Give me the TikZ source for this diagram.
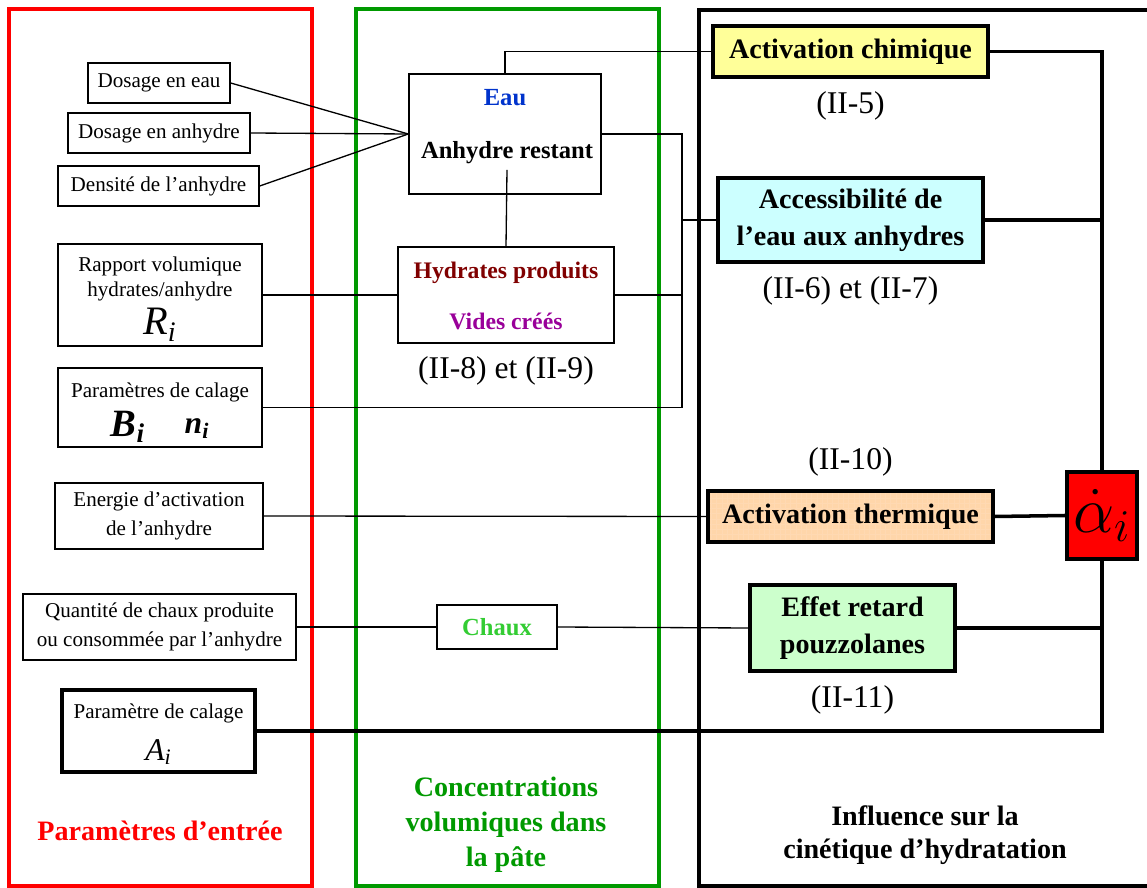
\documentclass[tikz,border=0pt]{standalone}
\usepackage{fontspec}
\setmainfont{Liberation Serif}
\usepackage{amsmath}
\usepackage{tikz}
\usetikzlibrary{positioning,patterns}
\usepackage{xcolor}

\definecolor{cadrerouge}{RGB}{255,0,0}
\definecolor{cadrevert}{RGB}{0,153,0}
\definecolor{vertclair}{RGB}{51,204,51}
\definecolor{bleueau}{RGB}{0,51,204}
\definecolor{rougefonce}{RGB}{128,0,0}
\definecolor{violet}{RGB}{153,0,153}
\definecolor{jaunepale}{RGB}{255,255,153}
\definecolor{cyanpale}{RGB}{204,255,255}
\definecolor{peche}{RGB}{255,214,170}
\definecolor{vertpale}{RGB}{204,255,204}

\newcommand{\fs}[1]{\fontsize{#1}{1.25\dimexpr#1pt\relax}\selectfont}
\newcommand{\pxu}{0.02cm}

\begin{document}
\begin{tikzpicture}[
  x=0.02cm, y=-0.02cm,
  cadre/.style={line width=2pt},
  entree/.style={
    draw, line width=0.8pt, inner sep=0pt,
    align=center, font=\fs{12}
  },
  entreebis/.style={entree, line width=1.1pt},
  effetbox/.style={
    draw, line width=2pt, inner sep=0pt,
    align=center, font=\fs{16}\bfseries
  },
  taille/.style 2 args={minimum width=#1*\pxu, minimum height=#2*\pxu},
  eqlabel/.style={font=\fs{18}},
  titre/.style={font=\fs{16}\bfseries, align=center},
  fin/.style={line width=0.75pt},
  gras/.style={line width=2pt}
]
\useasboundingbox (0,0) rectangle (1147,888);

% --- Cadres des trois colonnes ---
\draw[cadre, cadrerouge] (9,9) rectangle (312,886);
\draw[cadre, cadrevert] (356,9) rectangle (659,886);
\draw[cadre, black] (699,10) rectangle (1170,886);

% --- Parametres d'entree ---
\node[entree, taille={142}{40}] (dosEau) at (159,83) {Dosage en eau};
\node[entree, taille={182}{40}] (dosAnh) at (159,133) {Dosage en anhydre};
\node[entree, taille={201}{40}] (densAnh) at (158.5,186) {Densité de l’anhydre};
\node[entreebis, taille={204}{102}] (rapport) at (160,295) {};
\node[font=\fs{12}, align=center] at (160,279) {Rapport volumique\\[-1pt]hydrates/anhydre};
\node[font=\fs{23}\itshape] at (160,325) {R\textsubscript{i}};
\node[entreebis, taille={204}{79}] (calB) at (160,407.5) {};
\node[font=\fs{12}] at (160,392) {Paramètres de calage};
\node[font=\fs{22}\bfseries\itshape] at (128,427) {B\textsubscript{i}};
\node[font=\fs{18}\bfseries\itshape] at (197,429) {n\textsubscript{i}};
\node[entree, taille={208}{66}] (energie) at (159,516)
  {Energie d’activation\\[1pt]de l’anhydre};
\node[entree, taille={273}{66}] (quantChaux) at (159.5,627)
  {Quantité de chaux produite\\[1pt]ou consommée par l’anhydre};
\node[entree, line width=2pt, taille={193}{82}] (calA) at (158.5,731) {};
\node[font=\fs{12}] at (158.5,713) {Paramètre de calage};
\node[font=\fs{18}\itshape] at (158.5,752) {A\textsubscript{i}};

% --- Concentrations volumiques ---
\node[entree, taille={192}{120}] (pate) at (505,134) {};
\node[font=\fs{14}\bfseries, text=bleueau] (eau) at (505,98) {Eau};
\node[font=\fs{14}\bfseries, inner sep=3pt] (anh) at (507,153) {Anhydre restant};
\node[entree, taille={216}{96}] (hyd) at (506,295) {};
\node[font=\fs{13.5}\bfseries, text=rougefonce] at (506,273) {Hydrates produits};
\node[font=\fs{13.5}\bfseries, text=violet] at (506,321) {Vides créés};
\node[eqlabel, below=4pt of hyd] {(II-8) et (II-9)};
\node[entree, taille={120}{44}, font=\fs{14}\bfseries, text=vertclair] (chaux) at (497,627) {Chaux};

% --- Influence sur la cinetique ---
\node[effetbox, fill=jaunepale, taille={275}{51}] (chim) at (850.5,51.5) {Activation chimique};
\node[eqlabel, below=4pt of chim] {(II-5)};
\node[effetbox, fill=cyanpale, taille={265}{84}] (acces) at (850.5,220)
  {Accessibilité de\\[1pt]l’eau aux anhydres};
\node[eqlabel, below=4pt of acces] {(II-6) et (II-7)};
\node[effetbox, preaction={fill=peche}, preaction={pattern=grid, pattern color=orange!30}, taille={285}{51}] (therm) at (850.5,516.5)
  {Activation thermique};
\node[eqlabel, above=4pt of therm] {(II-10)};
\node[effetbox, fill=vertpale, taille={205}{86}] (effet) at (852.5,628)
  {Effet retard\\[1pt]pouzzolanes};
\node[eqlabel, below=4pt of effet] {(II-11)};

% --- Connexions ---
\draw[fin] (dosEau.east) -- (pate.west);
\draw[fin] (dosAnh.east) -- (pate.west);
\draw[fin] (densAnh.east) -- (pate.west);
\draw[fin] (pate.north) |- (chim.west);
\draw[fin] (anh.south) -- (hyd.north);
\coordinate (bus) at (682,0);
\draw[fin] (pate.east) -- (pate.east -| bus) -- (calB.east -| bus) -- (calB.east);
\draw[fin] (rapport.east) -- (hyd.west);
\draw[fin] (hyd.east) -- (hyd.east -| bus);
\draw[fin] (acces.west) -- (acces.west -| bus);
\draw[fin] (energie.east) -- (therm.west);
\draw[fin] (quantChaux.east) -- (chaux.west);
\draw[fin] (chaux.east) -- (effet.west);

% --- Sortie vers la vitesse d'hydratation ---
\node[draw, line width=2.3pt, fill=red, taille={70}{87}, inner sep=0pt] (alpha) at (1102,515.5) {};
\node[font=\fs{24}] at (alpha) {\scalebox{1.5}{$\dot{\alpha}_{i}$}};
\draw[gras] (chim.east) -| (alpha.north);
\draw[gras] (calA.east) -| (alpha.south);
\draw[gras] (acces.east) -- (acces.east -| alpha.center);
\draw[gras] (effet.east) -- (effet.east -| alpha.center);
\draw[gras] (therm.east) -- (alpha.west);

% --- Titres des colonnes ---
\node[titre, text=cadrerouge] at (160,831) {Paramètres d’entrée};
\node[titre, text=cadrevert, font=\fontsize{16}{20}\bfseries\selectfont] at (506,825)
  {Concentrations\\volumiques dans\\la pâte};
\node[titre, font=\fontsize{16}{19}\bfseries\selectfont] at (925,835)
  {Influence sur la\\cinétique d’hydratation};

\end{tikzpicture}
\end{document}
